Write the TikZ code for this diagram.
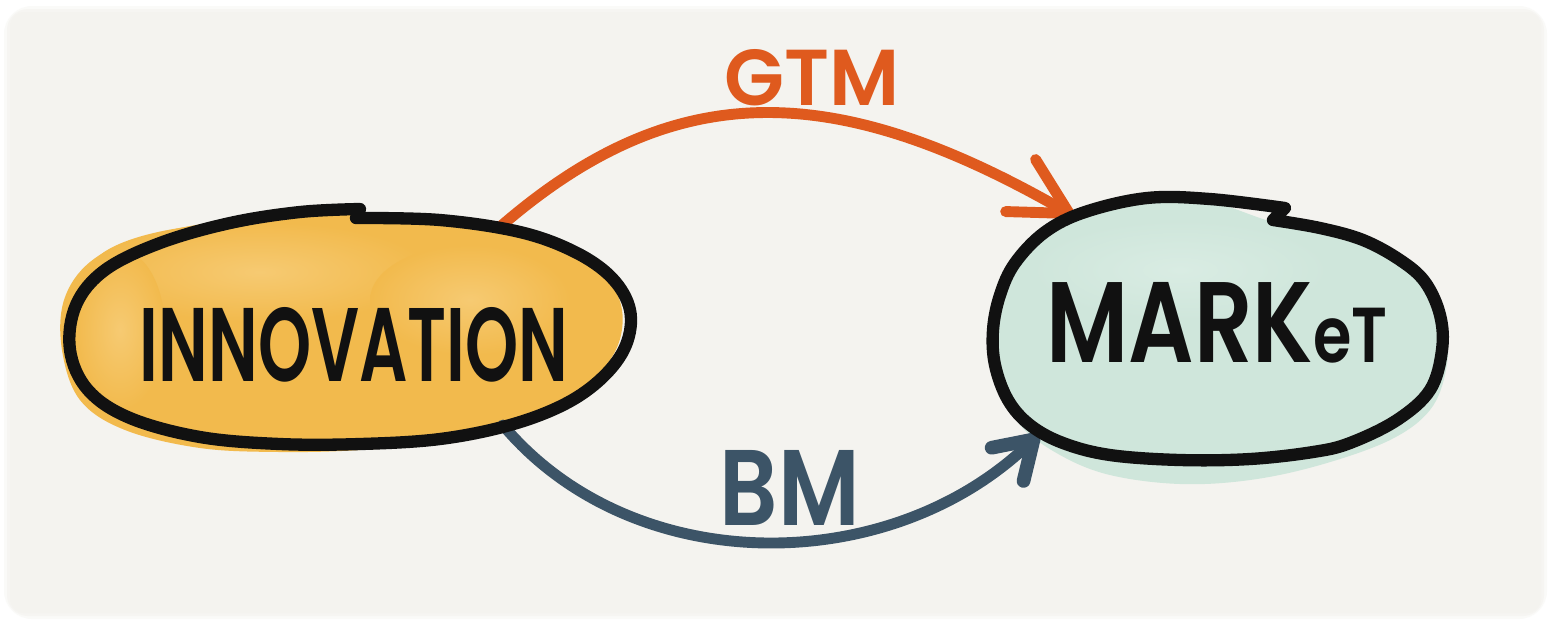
\documentclass[tikz,border=0pt]{standalone}
\usepackage{fontspec}
\usepackage{graphicx}
\usetikzlibrary{arrows.meta,shapes.geometric}
\newfontfamily\hand{Poppins}[UprightFont={* Medium}, BoldFont={* SemiBold}]

\definecolor{paper}{HTML}{F4F3EF}
\definecolor{ink}{HTML}{111111}
\definecolor{gtmink}{HTML}{DF5A1E}
\definecolor{bmink}{HTML}{3C5467}
\definecolor{innofill}{HTML}{F2BA4D}
\definecolor{innolight}{HTML}{F6CA72}
\definecolor{mktfill}{HTML}{CFE6DB}
\definecolor{mktlight}{HTML}{D9ECE3}

% fit a word into an exact width and cap height
\newcommand{\fitword}[3]{\resizebox{#1}{#2}{#3}}

\begin{document}
\begin{tikzpicture}[x=0.01cm, y=-0.01cm, line cap=round, line join=round,
  outline/.style={draw=ink, line width=3.5pt},
  hub/.style={ellipse, inner sep=0pt, outer sep=0pt},
  word/.style={inner sep=0pt, font=\hand\bfseries},
  flow/.style={line width=3.1pt}]

\useasboundingbox (0,0) rectangle (1551,623);

% sheet of paper with a soft edge
\fill[white] (0,0) rectangle (1551,623);
\fill[paper!45!white, rounded corners=8] (4,6) rectangle (1547,619);
\fill[paper!80!white, rounded corners=6] (7,9) rectangle (1544,616);
\fill[paper, rounded corners=4] (10,12) rectangle (1541,613);

% watercolour washes
\fill[innofill] plot[smooth cycle, tension=0.6] coordinates {
  (360,212) (440,222) (520,236) (575,256) (608,280) (622,310) (618,345)
  (596,377) (560,404) (505,426) (440,442) (360,450) (280,452) (200,448)
  (125,430) (80,400) (62,350) (64,300) (90,262) (140,238) (230,220)};
\shade[inner color=innolight, outer color=innofill]
  (260,272) ellipse [x radius=170, y radius=50];
\shade[inner color=innolight, outer color=innofill]
  (470,300) ellipse [x radius=100, y radius=55];
\shade[inner color=innolight, outer color=innofill]
  (120,330) ellipse [x radius=45, y radius=80];

\fill[mktfill] plot[smooth cycle, tension=0.6] coordinates {
  (1273,222) (1330,232) (1390,258) (1428,290) (1446,330) (1446,370)
  (1430,410) (1390,440) (1320,465) (1250,480) (1180,484) (1110,475)
  (1060,455) (1020,425) (1000,385) (996,340) (1003,290) (1030,245)
  (1080,215) (1150,202) (1210,202)};
\shade[inner color=mktlight, outer color=mktfill]
  (1180,270) ellipse [x radius=150, y radius=50];

% the two bubbles (shape carriers for the connectors)
\node[hub, minimum width=5.62cm, minimum height=2.32cm] (inno) at (352,327) {};
\node[hub, minimum width=4.50cm, minimum height=2.58cm] (mkt) at (1217,329) {};

% connectors
\draw[flow, gtmink, shorten >=0.15cm,
      -{Straight Barb[length=5.6mm, width=6mm, round]}]
  (inno.34) .. controls (672,77) and (832,77) .. (mkt.141);
\draw[flow, bmink, shorten >=0.23cm,
      -{Straight Barb[length=3.6mm, width=4.6mm, round, line width=3.9pt]}]
  (inno.-33) .. controls (632,579) and (888,579) .. (mkt.209);

% hand-drawn outlines
\draw[outline] plot[smooth, tension=0.6] coordinates {
  (356,218) (440,220) (520,232) (575,252) (612,278) (630,310) (626,345)
  (603,377) (565,404) (510,425) (440,439) (360,444) (280,444) (200,437)
  (130,418) (88,390) (70,350) (76,305) (105,270) (160,243) (230,223)
  (300,212) (360,209)} -- (356,218);
\draw[outline] plot[smooth, tension=0.6] coordinates {
  (1273,220) (1320,228) (1363,240) (1400,260) (1425,282) (1440,315)
  (1442,350) (1430,390) (1397,420) (1350,443) (1313,452) (1250,459)
  (1180,460) (1110,455) (1063,443) (1030,425) (1008,400) (995,365)
  (993,330) (1000,295) (1015,263) (1045,232) (1085,212) (1147,198)
  (1210,199) (1285,208)} -- (1273,220);

% words
\node[word, text=ink] (innoword) at (354,345)
  {\fitword{4.28cm}{0.74cm}{INNOVATION}};
\node[word, text=ink] (mktword) at (1217,323)
  {\fitword{3.41cm}{0.80cm}{MARK\scalebox{0.68}{eT}}};
\node[word, text=gtmink] (gtm) at (812,78)
  {\fitword{1.75cm}{0.56cm}{GTM}};
\node[word, text=bmink] (bm) at (790,488)
  {\fitword{1.40cm}{0.75cm}{BM}};
\end{tikzpicture}
\end{document}
